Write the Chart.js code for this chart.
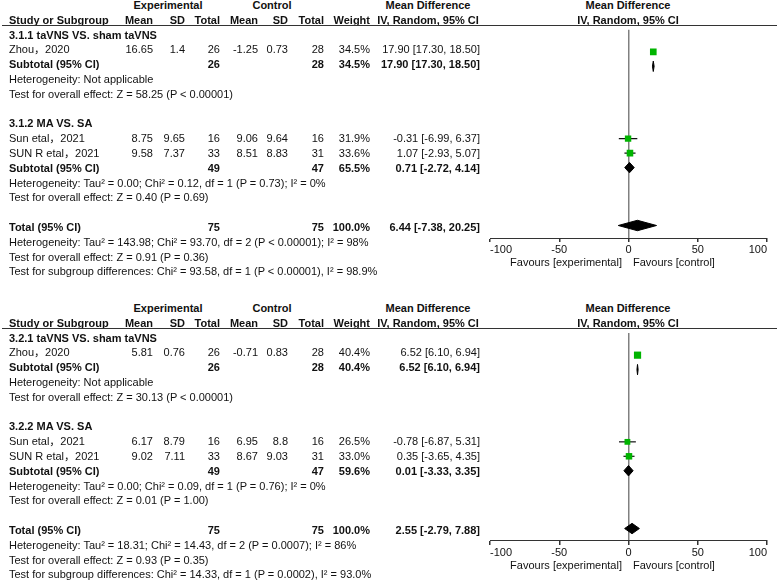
<!DOCTYPE html>
<html>
<head>
<meta charset="utf-8">
<script src="https://cdn.jsdelivr.net/npm/chart.js@4.4.1/dist/chart.umd.min.js"></script>
<style>
  html, body { margin: 0; padding: 0; background: #fff; }
  body { width: 777px; height: 580px; position: relative; overflow: hidden;
         font-family: 'Liberation Sans', Arial, 'Noto Sans CJK SC', sans-serif; font-size: 11px; color: #111; }
  .t { position: absolute; white-space: nowrap; line-height: 14px; height: 14px; z-index: 2; }
  .b { font-weight: bold; }
  .rule { position: absolute; left: 2px; width: 775px; height: 0; border-top: 1px solid #333; z-index: 2; }
  canvas { position: absolute; left: 0; z-index: 1; }
</style>
</head>
<body>
<canvas id="plot1" width="777" height="250"></canvas>
<canvas id="plot2" width="777" height="250"></canvas>
<script>
'use strict';

// one entry per panel (outcome 3.1 and 3.2)
const studyNames = ['Zhou，2020', 'Sun etal，2021', 'SUN R etal，2021'];
const studyGroup = [0, 1, 1];
const expMean = [[16.65, 8.75, 9.58], [5.81, 6.17, 9.02]];
const expSD = [[1.4, 9.65, 7.37], [0.76, 8.79, 7.11]];
const expN = [[26, 16, 33], [26, 16, 33]];
const ctlMean = [[-1.25, 9.06, 8.51], [-0.71, 6.95, 8.67]];
const ctlSD = [[0.73, 9.64, 8.83], [0.83, 8.8, 9.03]];
const ctlN = [[28, 16, 31], [28, 16, 31]];
const studyWeight = [[34.5, 31.9, 33.6], [40.4, 26.5, 33.0]];
const studyMD = [[17.90, -0.31, 1.07], [6.52, -0.78, 0.35]];
const studyLow = [[17.30, -6.99, -2.93], [6.10, -6.87, -3.65]];
const studyHigh = [[18.50, 6.37, 5.07], [6.94, 5.31, 4.35]];

const subTitles = [['3.1.1 taVNS VS. sham taVNS', '3.1.2 MA VS. SA'], ['3.2.1 taVNS VS. sham taVNS', '3.2.2 MA VS. SA']];
const subExpN = [[26, 49], [26, 49]];
const subCtlN = [[28, 47], [28, 47]];
const subWeight = [[34.5, 65.5], [40.4, 59.6]];
const subMD = [[17.90, 0.71], [6.52, 0.01]];
const subLow = [[17.30, -2.72], [6.10, -3.33]];
const subHigh = [[18.50, 4.14], [6.94, 3.35]];
const subHet = [
  ['Heterogeneity: Not applicable', 'Heterogeneity: Tau² = 0.00; Chi² = 0.12, df = 1 (P = 0.73); I² = 0%'],
  ['Heterogeneity: Not applicable', 'Heterogeneity: Tau² = 0.00; Chi² = 0.09, df = 1 (P = 0.76); I² = 0%']
];
const subTest = [
  ['Test for overall effect: Z = 58.25 (P < 0.00001)', 'Test for overall effect: Z = 0.40 (P = 0.69)'],
  ['Test for overall effect: Z = 30.13 (P < 0.00001)', 'Test for overall effect: Z = 0.01 (P = 1.00)']
];

const totalExpN = [75, 75];
const totalCtlN = [75, 75];
const totalMD = [6.44, 2.55];
const totalLow = [-7.38, -2.79];
const totalHigh = [20.25, 7.88];
const totalHet = [
  'Heterogeneity: Tau² = 143.98; Chi² = 93.70, df = 2 (P < 0.00001); I² = 98%',
  'Heterogeneity: Tau² = 18.31; Chi² = 14.43, df = 2 (P = 0.0007); I² = 86%'
];
const totalTest = ['Test for overall effect: Z = 0.91 (P = 0.36)', 'Test for overall effect: Z = 0.93 (P = 0.35)'];
const subgroupDiff = [
  'Test for subgroup differences: Chi² = 93.58, df = 1 (P < 0.00001), I² = 98.9%',
  'Test for subgroup differences: Chi² = 14.33, df = 1 (P = 0.0002), I² = 93.0%'
];

const xTicks = [-100, -50, 0, 50, 100];

// layout
const panelTops = [0, 303];
const ROW0 = 5;
const ROW_H = 14.8;
const AXIS_TOP = 25;
const AXIS_Y = 238;
const colX = { name: 9, eMean: 153, eSD: 185, eN: 220, cMean: 258, cSD: 288, cN: 324, weight: 370, ci: 480, ciHead: 428, plot: 628 };

Chart.defaults.font.family = "'Liberation Sans', Arial, sans-serif";
Chart.defaults.font.size = 11;
Chart.defaults.color = '#111';

function put(text, x, y, align, bold) {
  let el = document.createElement('div');
  el.className = 't' + (bold ? ' b' : '');
  el.textContent = text;
  el.style.top = (y - 7) + 'px';
  if (align === 'left') {
    el.style.left = x + 'px';
  } else if (align === 'right') {
    el.style.right = (777 - x) + 'px';
  } else {
    el.style.left = (x - 100) + 'px';
    el.style.width = '200px';
    el.style.textAlign = 'center';
  }
  document.body.appendChild(el);
}

function ciText(md, lo, hi) {
  return `${md.toFixed(2)} [${lo.toFixed(2)}, ${hi.toFixed(2)}]`;
}

function buildPanel(p) {
  const top = panelTops[p];
  const rowY = (r) => top + ROW0 + ROW_H * r;

  // headers
  put('Experimental', 168, rowY(0), 'center', true);
  put('Control', 272, rowY(0), 'center', true);
  put('Mean Difference', colX.ciHead, rowY(0), 'center', true);
  put('Mean Difference', colX.plot, rowY(0), 'center', true);
  put('Study or Subgroup', colX.name, rowY(1), 'left', true);
  put('Mean', colX.eMean, rowY(1), 'right', true);
  put('SD', colX.eSD, rowY(1), 'right', true);
  put('Total', colX.eN, rowY(1), 'right', true);
  put('Mean', colX.cMean, rowY(1), 'right', true);
  put('SD', colX.cSD, rowY(1), 'right', true);
  put('Total', colX.cN, rowY(1), 'right', true);
  put('Weight', colX.weight, rowY(1), 'right', true);
  put('IV, Random, 95% CI', colX.ciHead, rowY(1), 'center', true);
  put('IV, Random, 95% CI', colX.plot, rowY(1), 'center', true);
  let rule = document.createElement('div');
  rule.className = 'rule';
  rule.style.top = (top + AXIS_TOP) + 'px';
  document.body.appendChild(rule);

  let squares = [];
  let squareSize = [];
  let ciLines = [];
  let diamonds = [];

  let r = 2;
  for (let g = 0; g < subTitles[p].length; g++) {
    put(subTitles[p][g], colX.name, rowY(r), 'left', true);
    r++;
    for (let i = 0; i < studyNames.length; i++) {
      if (studyGroup[i] !== g) continue;
      const y = rowY(r);
      put(studyNames[i], colX.name, y, 'left', false);
      put(String(expMean[p][i]), colX.eMean, y, 'right', false);
      put(String(expSD[p][i]), colX.eSD, y, 'right', false);
      put(String(expN[p][i]), colX.eN, y, 'right', false);
      put(String(ctlMean[p][i]), colX.cMean, y, 'right', false);
      put(String(ctlSD[p][i]), colX.cSD, y, 'right', false);
      put(String(ctlN[p][i]), colX.cN, y, 'right', false);
      put(studyWeight[p][i].toFixed(1) + '%', colX.weight, y, 'right', false);
      put(ciText(studyMD[p][i], studyLow[p][i], studyHigh[p][i]), colX.ci, y, 'right', false);
      squares.push({ x: studyMD[p][i], y: r - 0.12 });
      squareSize.push(0.8 * Math.sqrt(studyWeight[p][i]));
      ciLines.push([{ x: studyLow[p][i], y: r - 0.12 }, { x: studyHigh[p][i], y: r - 0.12 }]);
      r++;
    }
    const y = rowY(r);
    put('Subtotal (95% CI)', colX.name, y, 'left', true);
    put(String(subExpN[p][g]), colX.eN, y, 'right', true);
    put(String(subCtlN[p][g]), colX.cN, y, 'right', true);
    put(subWeight[p][g].toFixed(1) + '%', colX.weight, y, 'right', true);
    put(ciText(subMD[p][g], subLow[p][g], subHigh[p][g]), colX.ci, y, 'right', true);
    diamonds.push({ md: subMD[p][g], lo: subLow[p][g], hi: subHigh[p][g], row: r - 0.12 });
    r++;
    put(subHet[p][g], colX.name, rowY(r), 'left', false);
    r++;
    put(subTest[p][g], colX.name, rowY(r), 'left', false);
    r += 2;
  }
  const yT = rowY(r);
  put('Total (95% CI)', colX.name, yT, 'left', true);
  put(String(totalExpN[p]), colX.eN, yT, 'right', true);
  put(String(totalCtlN[p]), colX.cN, yT, 'right', true);
  put('100.0%', colX.weight, yT, 'right', true);
  put(ciText(totalMD[p], totalLow[p], totalHigh[p]), colX.ci, yT, 'right', true);
  diamonds.push({ md: totalMD[p], lo: totalLow[p], hi: totalHigh[p], row: r - 0.12 });
  r++;
  put(totalHet[p], colX.name, rowY(r), 'left', false);
  r++;
  put(totalTest[p], colX.name, rowY(r), 'left', false);
  r++;
  put(subgroupDiff[p], colX.name, rowY(r), 'left', false);

  // favours labels under the axis
  put('Favours [experimental]', colX.plot - 6, top + 262, 'right', false);
  put('Favours [control]', colX.plot + 5, top + 262, 'left', false);

  // chart
  let datasets = [];
  datasets.push({
    data: squares,
    pointStyle: 'rect',
    pointRadius: squareSize,
    backgroundColor: '#00b400',
    borderWidth: 0
  });
  for (let i = 0; i < ciLines.length; i++) {
    datasets.push({
      data: ciLines[i],
      showLine: true,
      borderColor: '#111',
      borderWidth: 1.2,
      pointRadius: 0
    });
  }
  const halfH = 0.36;
  for (let d of diamonds) {
    datasets.push({
      data: [
        { x: d.lo, y: d.row },
        { x: d.md, y: d.row - halfH },
        { x: d.hi, y: d.row },
        { x: d.md, y: d.row + halfH },
        { x: d.lo, y: d.row }
      ],
      showLine: true,
      fill: 'shape',
      backgroundColor: '#000',
      borderColor: '#000',
      borderWidth: 1,
      pointRadius: 0
    });
  }

  let canvas = document.getElementById('plot' + (p + 1));
  canvas.style.top = (top + AXIS_TOP) + 'px';

  new Chart(canvas, {
    type: 'scatter',
    data: { datasets: datasets },
    options: {
      responsive: false,
      animation: false,
      events: [],
      layout: { padding: { left: 490, right: 10, top: 0, bottom: 0 } },
      plugins: { legend: { display: false }, tooltip: { enabled: false } },
      scales: {
        x: {
          type: 'linear',
          min: xTicks[0],
          max: xTicks[xTicks.length - 1],
          afterBuildTicks: (scale) => { scale.ticks = xTicks.map(v => ({ value: v })); },
          afterFit: (scale) => { scale.height = 250 - (AXIS_Y - AXIS_TOP); },
          ticks: { padding: 1, align: 'inner', color: '#111', font: { size: 11 } },
          grid: {
            drawOnChartArea: true,
            tickLength: 4,
            tickColor: '#333',
            color: (ctx) => (ctx.tick && ctx.tick.value === 0 ? '#808080' : 'rgba(0,0,0,0)'),
            lineWidth: 1.5
          },
          border: { display: true, color: '#333', width: 1 }
        },
        y: {
          type: 'linear',
          display: false,
          reverse: true,
          min: (AXIS_TOP - ROW0) / ROW_H,
          max: (AXIS_Y - ROW0) / ROW_H
        }
      }
    }
  });
}

buildPanel(0);
buildPanel(1);
</script>
</body>
</html>
